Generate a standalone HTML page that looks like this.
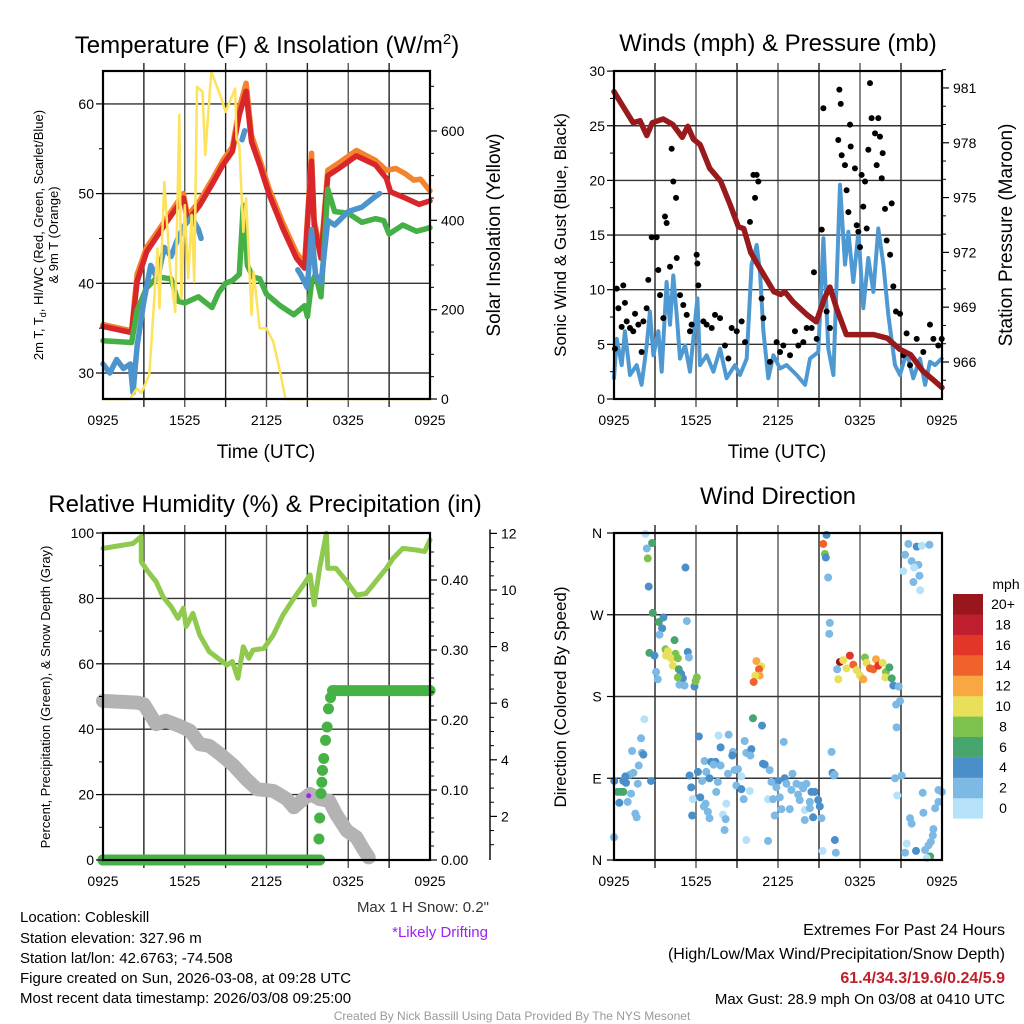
<!DOCTYPE html>
<html><head><meta charset="utf-8"><title>Cobleskill Meteogram</title>
<style>
html,body{margin:0;padding:0;background:#fff;}
svg{display:block;font-family:"Liberation Sans",Arial,sans-serif;}
</style></head>
<body>
<svg id="chart" width="1024" height="1024" viewBox="0 0 1024 1024" xmlns="http://www.w3.org/2000/svg">
<rect x="0" y="0" width="1024" height="1024" fill="#fff"/>
<text x="267" y="53" font-size="24" text-anchor="middle">Temperature (F) &amp; Insolation (W/m<tspan font-size="15" dy="-9">2</tspan><tspan dy="9">)</tspan></text>
<text x="778" y="51" font-size="24" text-anchor="middle">Winds (mph) &amp; Pressure (mb)</text>
<text x="265" y="512" font-size="24" text-anchor="middle">Relative Humidity (%) &amp; Precipitation (in)</text>
<text x="778" y="504" font-size="24" text-anchor="middle">Wind Direction</text>
<text x="266" y="458" font-size="19" text-anchor="middle">Time (UTC)</text>
<text x="777" y="458" font-size="19" text-anchor="middle">Time (UTC)</text>
<text transform="translate(43,235) rotate(-90)" font-size="13" text-anchor="middle">2m T, T<tspan font-size="9" dy="3">d</tspan><tspan dy="-3">, HI/WC (Red, Green, Scarlet/Blue)</tspan></text>
<text transform="translate(58,235) rotate(-90)" font-size="13" text-anchor="middle">&amp; 9m T (Orange)</text>
<text transform="translate(500,235) rotate(-90)" font-size="19" text-anchor="middle">Solar Insolation (Yellow)</text>
<text transform="translate(566,235) rotate(-90)" font-size="17" text-anchor="middle">Sonic Wind &amp; Gust (Blue, Black)</text>
<text transform="translate(1012,235) rotate(-90)" font-size="19" text-anchor="middle">Station Pressure (Maroon)</text>
<text transform="translate(50,697) rotate(-90)" font-size="13" text-anchor="middle">Percent, Precipitation (Green), &amp; Snow Depth (Gray)</text>
<text transform="translate(566,697) rotate(-90)" font-size="17" text-anchor="middle">Direction (Colored By Speed)</text>
<text x="489" y="912" font-size="15" text-anchor="end" fill="#333">Max 1 H Snow: 0.2"</text>
<text x="488" y="937" font-size="15" text-anchor="end" fill="#a020f0">*Likely Drifting</text>
<g font-size="15">
<text x="20" y="922">Location: Cobleskill</text>
<text x="20" y="943">Station elevation: 327.96 m</text>
<text x="20" y="963">Station lat/lon: 42.6763; -74.508</text>
<text x="20" y="983">Figure created on Sun, 2026-03-08, at 09:28 UTC</text>
<text x="20" y="1003">Most recent data timestamp: 2026/03/08 09:25:00</text>
</g>
<g font-size="16" text-anchor="end">
<text x="1005" y="935">Extremes For Past 24 Hours</text>
<text x="1005" y="959">(High/Low/Max Wind/Precipitation/Snow Depth)</text>
<text x="1005" y="983" fill="#c0202a" font-weight="bold">61.4/34.3/19.6/0.24/5.9</text>
<text x="1005" y="1004" font-size="15">Max Gust: 28.9 mph On 03/08 at 0410 UTC</text>
</g>
<text x="512" y="1020" font-size="12" fill="#999" text-anchor="middle">Created By Nick Bassill Using Data Provided By The NYS Mesonet</text>
</svg>
<script>
// ---------- Temperature panel data ----------
const redHours=[0,2.1,2.5,3.2,4.7,5.9,6.2,7.1,8.1,8.8,9.5,10,10.5,10.9,11.5,12.2,13.2,14.2,14.8,15.3,15.5,16,16.5,17.3,18.6,20,20.8,21.1,22.2,23.2,24];
const redTemps=[35.2,34.5,40.2,43.5,46.9,49.5,46.9,48.7,51.3,53.2,54.7,58.8,61.4,55.8,53.2,49.9,46.1,42.8,41.7,53.6,46.5,42.8,52,52.8,54.2,53.2,51.7,50.2,49.5,48.8,49.2];
const orangeHours=[0,2.1,2.5,3.2,4.7,5.9,6.2,7.1,8.1,8.8,9.5,10,10.5,10.9,11.5,12.2,13.2,14.2,14.8,15.3,15.5,16,16.5,17.3,18.6,20,20.8,21.5,22.2,22.8,23.3,24];
const orangeTemps=[35.4,34.7,41,44,47.3,50,47.5,49.2,51.8,53.7,55.2,59.5,62.3,56.5,53.8,50.5,46.7,43.4,42.2,54.5,47,43.3,52.6,53.4,54.8,53.7,52.6,52.8,52.2,51.5,51.6,50.3];
const dewHours=[0,2.1,2.5,3.2,4,5,5.5,6,7,8,8.5,9,9.5,10,10.3,10.6,11,11.5,12,13,14,14.8,15,15.3,15.6,16,16.5,17,18,19,20,20.6,21,22,23,24];
const dewTemps=[33.6,33.4,37,39.5,40.7,40.5,38,37.8,38.5,37.3,39,40,40.3,41,48.7,42,40.7,40.5,38.8,37.5,36.5,37.5,36.3,40,41,38.5,50.5,48,47.8,46.8,47.2,47,45.5,46.5,45.8,46.2];
const hiwcHours=[0,0.5,1,1.5,2,2.2,2.5,3,3.5,4,4.5,5,5.5,6,6.5,7,7.2,7.3,10.2,10.4,10.5,14.3,14.5,15,15.3,15.6,16,16.5,17,18,19,20,20.3];
const hiwcTemps=[31,30,31.5,30.5,31,27.8,33,38,42,40.5,44,43,45,46.5,47.4,46,45,null,56,57,null,41.5,41,39.5,46,41,40,47,46.5,48,48.5,49.7,50];
const solarHours=[0,2,2.3,2.5,2.8,3.4,4,4.15,4.5,4.9,5.3,5.6,5.75,6,6.25,6.5,6.7,6.9,7.3,7.5,7.95,8.6,9,9.7,9.8,10,10.3,10.5,10.9,11.05,11.5,12,12.5,13,13.4,24];
const solarVals=[0,0,15,24,13,54,337,203,486,300,195,636,225,434,270,412,262,699,688,546,733,680,643,695,583,568,374,449,188,285,158,158,128,61,0,0];
// ---------- Wind panel data ----------
const windHours=[0,.2,.56,.8,1.17,1.66,2.02,2.39,2.63,2.88,3.24,3.49,3.85,4.1,4.34,4.59,4.83,5.2,5.56,6.1,6.29,6.78,7.27,7.76,8.24,8.85,9.22,9.71,10.07,10.44,10.68,10.93,11.29,11.66,12.15,12.63,13.37,13.98,14.34,14.95,15.32,15.68,16.05,16.54,16.9,17.15,17.51,17.88,18.24,18.61,18.98,19.34,19.71,20.07,20.56,20.93,21.41,21.9,22.39,22.76,23.12,23.49,23.98];
const windVals=[1.9,5.5,3.1,6.2,2.2,3.1,1.3,4.9,8.0,4.0,6.2,2.5,10.7,6.8,11.3,7.7,3.7,4.9,2.5,9.2,3.1,4.0,2.5,4.6,1.9,3.1,2.2,3.7,12.3,14.1,11.6,6.2,1.9,4.0,2.8,3.1,2.2,1.3,3.7,4.3,14.7,4.6,2.2,19.6,12.3,15.3,10.7,15.3,8.3,12.9,9.8,15.6,12.3,7.7,3.1,2.2,4.3,1.9,3.7,1.3,3.4,3.1,3.7];
const gustHours=[.07,.2,.32,.68,.8,.56,.93,1.17,1.41,1.54,1.78,2.02,2.15,2.39,2.51,2.76,3.12,3.24,3.37,3.61,3.73,3.85,4.1,4.22,4.34,4.54,4.59,4.83,5.07,5.32,5.56,5.68,6.05,6.1,6.17,6.54,6.78,7.15,7.39,7.76,8.12,8.37,8.61,8.98,9.34,9.59,9.95,10.2,10.44,10.32,10.56,10.8,10.93,11.41,11.9,12.15,12.39,12.88,13.24,13.49,13.85,14.1,14.46,14.63,14.83,15.2,15.32,15.56,15.8,16.41,16.49,16.59,16.66,16.9,17.02,17.15,17.27,17.32,17.63,17.76,17.88,18,18.12,18.24,18.37,18.49,18.61,18.73,18.85,19.1,19.22,19.34,19.46,19.59,19.66,19.83,19.95,20.2,20.32,20.44,20.63,20.93,21.17,21.41,21.66,22.15,22.63,23.12,23.37,23.73,23.98];
const gustVals=[4.6,10.1,8.3,10.4,8.8,6.6,7.1,6.5,6.2,7.8,6.8,4.3,7.1,8.3,10.9,14.8,14.8,11.8,9.5,7.4,16.7,16.1,12.1,22.9,19.9,18.4,12.9,9.5,8.6,7.7,6.2,6.8,13.2,12.4,10.4,7.1,6.8,6.5,7.7,7.4,4.9,3.7,6.5,6.2,7.1,5.2,16.2,20.5,20.5,18.4,19.9,9.2,7.4,3.4,5.2,4.3,4.9,4.0,6.2,4.9,5.2,6.5,6.5,11.6,5.5,15.5,26.6,8.0,6.5,23.7,28.3,27.0,22.3,21.4,19.1,17.1,25.1,23.1,21.1,15.9,15.3,13.9,20.5,17.6,19.9,15.6,22.8,28.9,25.7,24.3,21.4,25.7,24.0,20.2,22.5,17.4,14.5,13.2,17.9,10.3,8.0,7.8,4.0,6.0,3.1,5.5,4.3,6.8,5.5,4.9,5.5];
const presHours=[0,.45,1.4,1.9,2.4,2.8,3.6,4.3,5,5.4,5.8,6.3,7,7.8,8.5,9.1,9.5,10,10.7,11.7,12.2,12.5,13.1,14.1,14.8,15.4,15.8,16.3,17,17.8,19,20,20.9,21.7,22.6,23.4,24];
const presVals=[980.8,980.25,979.1,979.2,978.4,979.1,979.3,979.0,978.3,978.9,978.2,977.9,976.6,975.9,974.6,973.4,973.3,972.0,971.1,969.85,969.7,969.85,969.3,968.6,968.2,969.5,970.1,968.9,967.5,967.5,967.5,967.3,966.7,966.4,965.5,965.0,964.6];
// ---------- Humidity / precipitation / snow data ----------
const rhHours=[0,2.2,2.8,2.81,3.3,3.9,4.4,5,5.5,5.9,6.1,6.6,7.1,7.8,8.6,9.1,9.5,9.9,10.3,10.7,11,11.8,12.5,13.2,14,14.7,15.2,15.5,15.9,16.4,16.5,17.1,17.9,18.6,19.3,20.1,20.8,21.3,22,23,23.6,24];
const rhVals=[95.3,96.8,98.9,91.2,88.2,85.1,80.5,77.5,73.9,77,71.4,75.4,68.8,63.7,61.2,59.6,60.7,55.6,65.2,61.7,64.2,64.7,68.8,74.9,80,84.1,87.2,78,89.2,99.9,89.2,89.2,85.1,81,81.5,85.6,89.2,92.3,95.3,94.8,94.3,97.9];
const snowHours=[0,2.5,3,3.9,4.6,5.6,6.4,7.1,7.8,8.6,9.6,10.5,11.3,12.5,13.5,14,14.7,15.2,15.9,16.6,17.1,17.9,18.6,19.1,19.5];
const snowVals=[6.08,6.02,5.96,5.26,5.38,5.2,5.02,4.55,4.49,4.2,3.79,3.32,2.96,2.9,2.61,2.32,2.61,2.79,2.61,2.55,2.08,1.49,1.26,0.85,0.55];
const precipHours=[0,15.9,15.85,15.9,16.0,16.06,16.11,16.2,16.33,16.45,16.55,16.7,16.85,24];
const precipVals=[0,0,0.03,0.06,0.095,0.111,0.128,0.145,0.171,0.19,0.216,0.232,0.242,0.242];
const driftHours=[15.1];
const driftVals=[2.73];
// ---------- Wind direction data ----------
const dirHours=[2.30,2.40,2.79,2.47,5.23,2.54,2.84,3.62,3.28,3.52,3.33,5.33,4.43,2.59,2.96,3.77,3.94,4.50,3.81,4.18,4.67,5.40,5.48,4.30,4.74,3.08,3.20,4.91,5.04,4.67,4.79,5.16,5.89,6.06,5.97,10.42,10.78,10.61,10.66,10.34,10.22,15.55,15.31,15.43,15.50,15.67,15.79,15.75,16.53,17.26,16.77,17.02,17.51,16.33,16.41,17.75,18.00,18.24,18.36,18.48,18.73,18.97,19.17,19.34,19.66,19.90,20.15,19.85,20.32,20.44,20.83,20.64,20.93,20.68,21.54,22.15,22.52,23.08,21.30,21.78,22.27,21.96,21.17,22.35,21.91,22.40,2.22,10.17,10.83,1.98,6.21,7.65,8.39,9.56,12.42,1.32,2.05,2.15,7.80,8.70,8.66,9.68,10.05,9.98,1.81,1.42,1.17,0.83,0.02,0.68,2.71,0.88,1.74,5.53,6.14,6.63,7.11,7.43,7.29,7.80,6.75,6.99,6.45,7.60,8.34,8.83,9.32,9.07,10.90,11.03,11.39,12.49,13.06,12.00,11.52,12.62,13.35,13.72,14.08,5.65,8.95,9.32,9.93,11.88,12.98,13.84,0.27,0.51,0.68,1.25,0.39,1.00,5.77,6.31,7.48,6.70,9.49,8.22,11.27,11.64,12.13,13.47,13.59,14.45,14.69,14.94,14.33,15.06,6.58,6.87,12.25,12.86,13.96,14.33,1.56,1.66,5.72,6.99,7.97,8.17,11.76,14.57,15.18,13.96,0.0,8.09,9.68,11.27,15.92,15.99,16.09,20.56,21.05,20.73,22.59,23.74,23.99,23.74,23.50,22.64,21.66,21.78,23.37,23.33,23.18,23.01,21.42,22.76,22.10,21.30,23.13,22.89,15.26,16.16,16.23,16.14];
const dirDegs=[359,343,349,332,322,301,272,267,262,255,248,263,242,228,225,232,230,227,225,222,222,229,223,214,210,207,199,205,200,201,193,192,191,201,197,219,213,210,203,203,196,358,348,337,333,311,261,249,218,225,220,211,215,210,199,209,203,199,223,217,211,210,221,214,217,207,212,201,200,192,191,171,175,146,348,345,346,347,336,329,325,322,318,313,306,297,155,156,148,134,136,137,138,131,130,120,118,116,124,119,115,118,122,115,104,96,94,92,87,87,87,85,84,93,97,109,108,108,105,104,97,90,87,86,95,99,92,100,106,105,99,90,95,87,86,84,84,82,84,80,82,78,76,80,77,79,75,75,75,73,63,64,67,69,75,62,67,62,67,67,69,72,66,75,75,66,64,59,59,53,56,56,55,57,51,47,49,46,50,45,49,47,46,44,25,33,22,21,119,96,93,90,93,71,74,77,75,64,57,52,46,40,34,27,20,16,18,11,10,8,4,2,10,22,8,94];
const dirSpeeds=[1,3,7,9,5,5,7,5,7,5,3,3,7,7,5,9,11,9,11,11,9,5,3,11,7,3,3,5,5,9,3,3,5,9,9,
13,11,15,13,11,15,
5,15,9,5,3,3,3,
21,17,11,11,15,3,11,11,11,13,9,11,15,15,13,17,11,9,7,11,7,5,3,3,3,3,
3,5,1,3,3,3,3,1,1,3,3,1,
1,7,5,3,5,1,3,3,3,3,3,5,5,3,5,3,5,3,3,3,3,5,5,5,5,5,3,5,5,3,5,5,3,3,3,5,3,3,3,3,1,3,5,5,3,5,3,5,3,3,3,3,3,5,3,5,1,3,3,3,7,7,7,3,5,3,1,5,3,3,3,1,1,3,3,3,3,5,5,5,3,5,3,3,3,3,1,3,3,3,5,3,1,3,3,5,3,3,3,3,1,3,3,5,3,3,3,1,3,3,3,3,3,3,3,3,3,3,3,3,1,3,5,3,7,1,1,5];
const speedBins=["0","2","4","6","8","10","12","14","16","18","20+"];
const speedColors=["#b5e2f8","#7cb9e4","#4a8fc9","#47a66d","#7cc24d","#e8e05b","#f8a743","#f0622c","#e23628","#be1e2d","#99171c"];
const timeTicks=["0925","1525","2125","0325","0925"];
const tempTicks=[30,40,50,60];
const solarTicks=[0,200,400,600];
const windTicks=[0,5,10,15,20,25,30];
const presTicks=[966,969,972,975,978,981];
const pctTicks=[0,20,40,60,80,100];
const precipTicks=["0.00","0.10","0.20","0.30","0.40"];
const snowTicks=[2,4,6,8,10,12];
const dirTicks=["N","E","S","W","N"];

const NS="http://www.w3.org/2000/svg";
const svg=document.getElementById('chart');
function mk(tag,attrs,parent){const e=document.createElementNS(NS,tag);for(const k in attrs)e.setAttribute(k,attrs[k]);(parent||svg).appendChild(e);return e;}

const P1={x0:103,x1:430,y0:71,y1:399};
const P2={x0:614,x1:942,y0:71,y1:399};
const P3={x0:103,x1:430,y0:533,y1:860};
const P4={x0:614,x1:942,y0:533,y1:860};
function xs(P,h){return P.x0+h*(P.x1-P.x0)/24;}
const yTemp=t=>373-(t-30)*8.97;
const ySolar=w=>399-w*0.4467;
const yWind=w=>399-w*10.93;
const yPres=p=>362-(p-966)*18.27;
const yPct=p=>860-p*3.27;
const yPrecip=v=>860-v*700;
const ySnow=s=>873-s*28.3;
const yDir=d=>860-d*(327/360);

function pathD(P,hs,vs,yf){let d='',pen=false;for(let i=0;i<hs.length;i++){if(vs[i]===null||vs[i]===undefined){pen=false;continue;}d+=(pen?'L':'M')+xs(P,hs[i]).toFixed(1)+' '+yf(vs[i]).toFixed(1);pen=true;}return d;}

function frame(P,name,hLines){
  const g=mk('g',{});
  
  
  for(let k=1;k<8;k++){const x=P.x0+k*(P.x1-P.x0)/8;
    const l=mk('line',{x1:x,x2:x,y1:P.y0-8,y2:P.y1+8,stroke:(k%2? '#222':'#555'),'stroke-width':1.4},g);
    
    }
  hLines.forEach(y=>{const l=mk('line',{x1:P.x0,x2:P.x1,y1:y,y2:y,stroke:'#333','stroke-width':1.4},g);
    
    });
  timeTicks.forEach((t,i)=>{const tx=mk('text',{x:xs(P,i*6),y:P.y1+26,'font-size':14,'text-anchor':'middle'});tx.textContent=t;
    
    });
}
function border(P,name){const r=mk('rect',{x:P.x0,y:P.y0,width:P.x1-P.x0,height:P.y1-P.y0,fill:'none',stroke:'#000','stroke-width':2.2});
  
  }
function yTicks(x,vals,yf,side,labels,minor){
  vals.forEach((v,i)=>{const y=yf(v);const dx=side<0?-7:7;
    const l=mk('line',{x1:x,x2:x+dx,y1:y,y2:y,stroke:'#000','stroke-width':1.2});
    
    
    const t=mk('text',{x:x+(side<0?-9:11),y:y+5,'font-size':14,'text-anchor':side<0?'end':'start'});t.textContent=labels?labels[i]:v;
    
    });
  (minor||[]).forEach(v=>{const y=yf(v);const l=mk('line',{x1:x,x2:x+(side<0?-4:4),y1:y,y2:y,stroke:'#000','stroke-width':1});
    
    });
}
function line(P,hs,vs,yf,color,w,name){const p=mk('path',{d:pathD(P,hs,vs,yf),fill:'none',stroke:color,'stroke-width':w,'stroke-linejoin':'round','stroke-linecap':'round'});
  
  return p;}

// ----- Panel 1 -----
frame(P1,'temperature',tempTicks.map(yTemp));
line(P1,orangeHours,orangeTemps,yTemp,'#f5822d',5.5,'temperature-9m-line');
line(P1,redHours,redTemps,yTemp,'#d9262a',5.5,'temperature-2m-line');
line(P1,dewHours,dewTemps,yTemp,'#45b045',5.5,'dewpoint-line');
line(P1,hiwcHours,hiwcTemps,yTemp,'#4d94cc',5.5,'heat-index-windchill-line');
line(P1,solarHours,solarVals,ySolar,'#fde25c',2.5,'solar-insolation-line');
border(P1,'temperature');
yTicks(P1.x0,tempTicks,yTemp,-1,null,[35,45,55]);
yTicks(P1.x1,solarTicks,ySolar,1,null,[50,100,150,250,300,350,450,500,550,650,700]);

// ----- Panel 2 -----
frame(P2,'winds',[5,10,15,20,25].map(yWind));
line(P2,windHours,windVals,yWind,'#4f99d3',4,'sonic-wind-line');
gustHours.forEach((h,i)=>{const c=mk('circle',{cx:xs(P2,h),cy:yWind(gustVals[i]),r:3,fill:'#000'});
  
  });
line(P2,presHours,presVals,yPres,'#981a1c',5.5,'pressure-line');
border(P2,'winds');
yTicks(P2.x0,windTicks,yWind,-1,null,[2.5,7.5,12.5,17.5,22.5,27.5]);
yTicks(P2.x1,presTicks,yPres,1,null,[965,967,968,970,971,973,974,976,977,979,980,982]);

// ----- Panel 3 -----
frame(P3,'humidity',[20,40,60,80].map(yPct));
line(P3,rhHours,rhVals,yPct,'#8fca4f',5,'relative-humidity-line');
line(P3,snowHours,snowVals,ySnow,'#b3b3b3',14,'snow-depth-line');
for(let i=1;i<precipHours.length;i++){ if(precipVals[i]===precipVals[i-1]){
  const s=mk('line',{x1:xs(P3,precipHours[i-1]),x2:xs(P3,precipHours[i]),y1:yPrecip(precipVals[i-1]),y2:yPrecip(precipVals[i]),stroke:'#46b246','stroke-width':11,'stroke-linecap':'round'});
  
  }}
precipHours.forEach((h,i)=>{const c=mk('circle',{cx:xs(P3,h),cy:yPrecip(precipVals[i]),r:5.5,fill:'#46b246'});
  
  });
driftHours.forEach((h,i)=>{const c=mk('circle',{cx:xs(P3,h),cy:ySnow(driftVals[i]),r:2.5,fill:'#a020f0'});
  
  });
border(P3,'humidity');
yTicks(P3.x0,pctTicks,yPct,-1,null,[10,30,50,70,90]);
yTicks(P3.x1,precipTicks.map(Number),yPrecip,1,precipTicks,[0.02,0.04,0.06,0.08,0.12,0.14,0.16,0.18,0.22,0.24,0.26,0.28,0.32,0.34,0.36,0.38,0.42,0.44]);
{const ax=mk('line',{x1:490,x2:490,y1:ySnow(12)-4,y2:860,stroke:'#000','stroke-width':1.4});
  
  }
yTicks(490,snowTicks,ySnow,1,null,[1,1.5,2.5,3,3.5,4.5,5,5.5,6.5,7,7.5,8.5,9,9.5,10.5,11,11.5]);

// ----- Panel 4 -----
frame(P4,'wind-direction',[90,180,270].map(yDir));
dirHours.forEach((h,i)=>{const sp=(dirSpeeds[i]===undefined)?3:dirSpeeds[i];const b=Math.min(10,Math.floor(sp/2));
  const c=mk('circle',{cx:xs(P4,h),cy:yDir(dirDegs[i]),r:4,fill:speedColors[b]});
  
  });
border(P4,'wind-direction');
dirTicks.forEach((t,i)=>{const y=yDir(i*90);
  const l=mk('line',{x1:P4.x0,x2:P4.x0-7,y1:y,y2:y,stroke:'#000','stroke-width':1.2});
  
  
  const tx=mk('text',{x:P4.x0-17,y:y+5,'font-size':14,'text-anchor':'middle'});tx.textContent=t;
  
  });
// colorbar
{const t=mk('text',{x:1006,y:589,'font-size':14,'text-anchor':'middle'});t.textContent='mph';
  
  }
speedBins.forEach((lab,i)=>{const k=speedBins.length-1-i;const y=594+k*20.4;
  const r=mk('rect',{x:953,y:y,width:30,height:20.6,fill:speedColors[i]});
  
  
  const t=mk('text',{x:1003,y:y+15,'font-size':14,'text-anchor':'middle'});t.textContent=lab;
  
  });
</script>
</body></html>
